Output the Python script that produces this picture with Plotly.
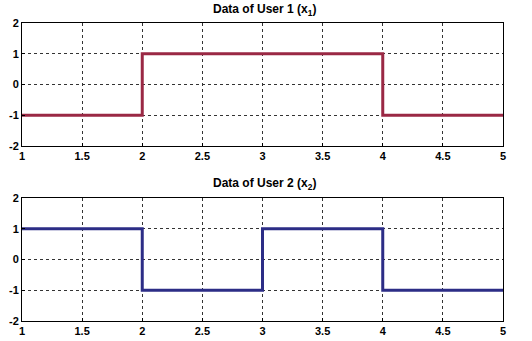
import plotly.graph_objects as go

# Data
x_user1 = [1, 2, 4, 5]
y_user1 = [-1, 1, -1, -1]
x_user2 = [1, 2, 3, 4, 5]
y_user2 = [1, -1, 1, -1, -1]

x_ticks = [1, 1.5, 2, 2.5, 3, 3.5, 4, 4.5, 5]
x_ticktext = ["1", "1.5", "2", "2.5", "3", "3.5", "4", "4.5", "5"]
y_ticks = [-2, -1, 0, 1, 2]
y_ticktext = ["-2", "-1", "0", "1", "2"]

titles = ["Data of User 1 (x<sub>1</sub>)", "Data of User 2 (x<sub>2</sub>)"]

W, H = 532, 341
xdom = [22 / W, 503 / W]
ydom1 = [1 - 146 / H, 1 - 23 / H]
ydom2 = [1 - 321 / H, 1 - 198 / H]

fig = go.Figure()
fig.add_trace(go.Scatter(x=x_user1, y=y_user1, mode="lines", line_shape="hv",
                         line=dict(color="#9a2844", width=3), xaxis="x", yaxis="y",
                         showlegend=False))
fig.add_trace(go.Scatter(x=x_user2, y=y_user2, mode="lines", line_shape="hv",
                         line=dict(color="#2c2d86", width=3), xaxis="x2", yaxis="y2",
                         showlegend=False))

FONT = "Liberation Sans, Arial, sans-serif"
font_tick = dict(family=FONT, size=11, color="black", weight="bold")

axis_common = dict(showline=True, linecolor="black", linewidth=1, mirror=True,
                   showgrid=True, gridcolor="#333333", gridwidth=1, griddash="dot",
                   zeroline=False, ticks="inside", ticklen=3, tickcolor="black",
                   tickfont=font_tick, automargin=False, fixedrange=True)

fig.update_layout(
    template="none",
    width=W, height=H,
    margin=dict(l=0, r=0, t=0, b=0),
    paper_bgcolor="white", plot_bgcolor="white",
    xaxis=dict(domain=xdom, range=[1, 5], tickvals=x_ticks, ticktext=x_ticktext,
               anchor="y", ticklabelstandoff=0, **axis_common),
    yaxis=dict(domain=ydom1, range=[-2, 2], tickvals=y_ticks, ticktext=y_ticktext,
               anchor="x", **axis_common),
    xaxis2=dict(domain=xdom, range=[1, 5], tickvals=x_ticks, ticktext=x_ticktext,
                anchor="y2", ticklabelstandoff=0, **axis_common),
    yaxis2=dict(domain=ydom2, range=[-2, 2], tickvals=y_ticks, ticktext=y_ticktext,
                anchor="x2", **axis_common),
    annotations=[
        dict(text="<b>" + titles[0] + "</b>", x=264 / W, y=1 - 10 / H,
             xref="paper", yref="paper", showarrow=False, xanchor="center", yanchor="middle",
             font=dict(family=FONT, size=12, color="black")),
        dict(text="<b>" + titles[1] + "</b>", x=264 / W, y=1 - 184 / H,
             xref="paper", yref="paper", showarrow=False, xanchor="center", yanchor="middle",
             font=dict(family=FONT, size=12, color="black")),
    ],
)

fig.write_html("out.html")
